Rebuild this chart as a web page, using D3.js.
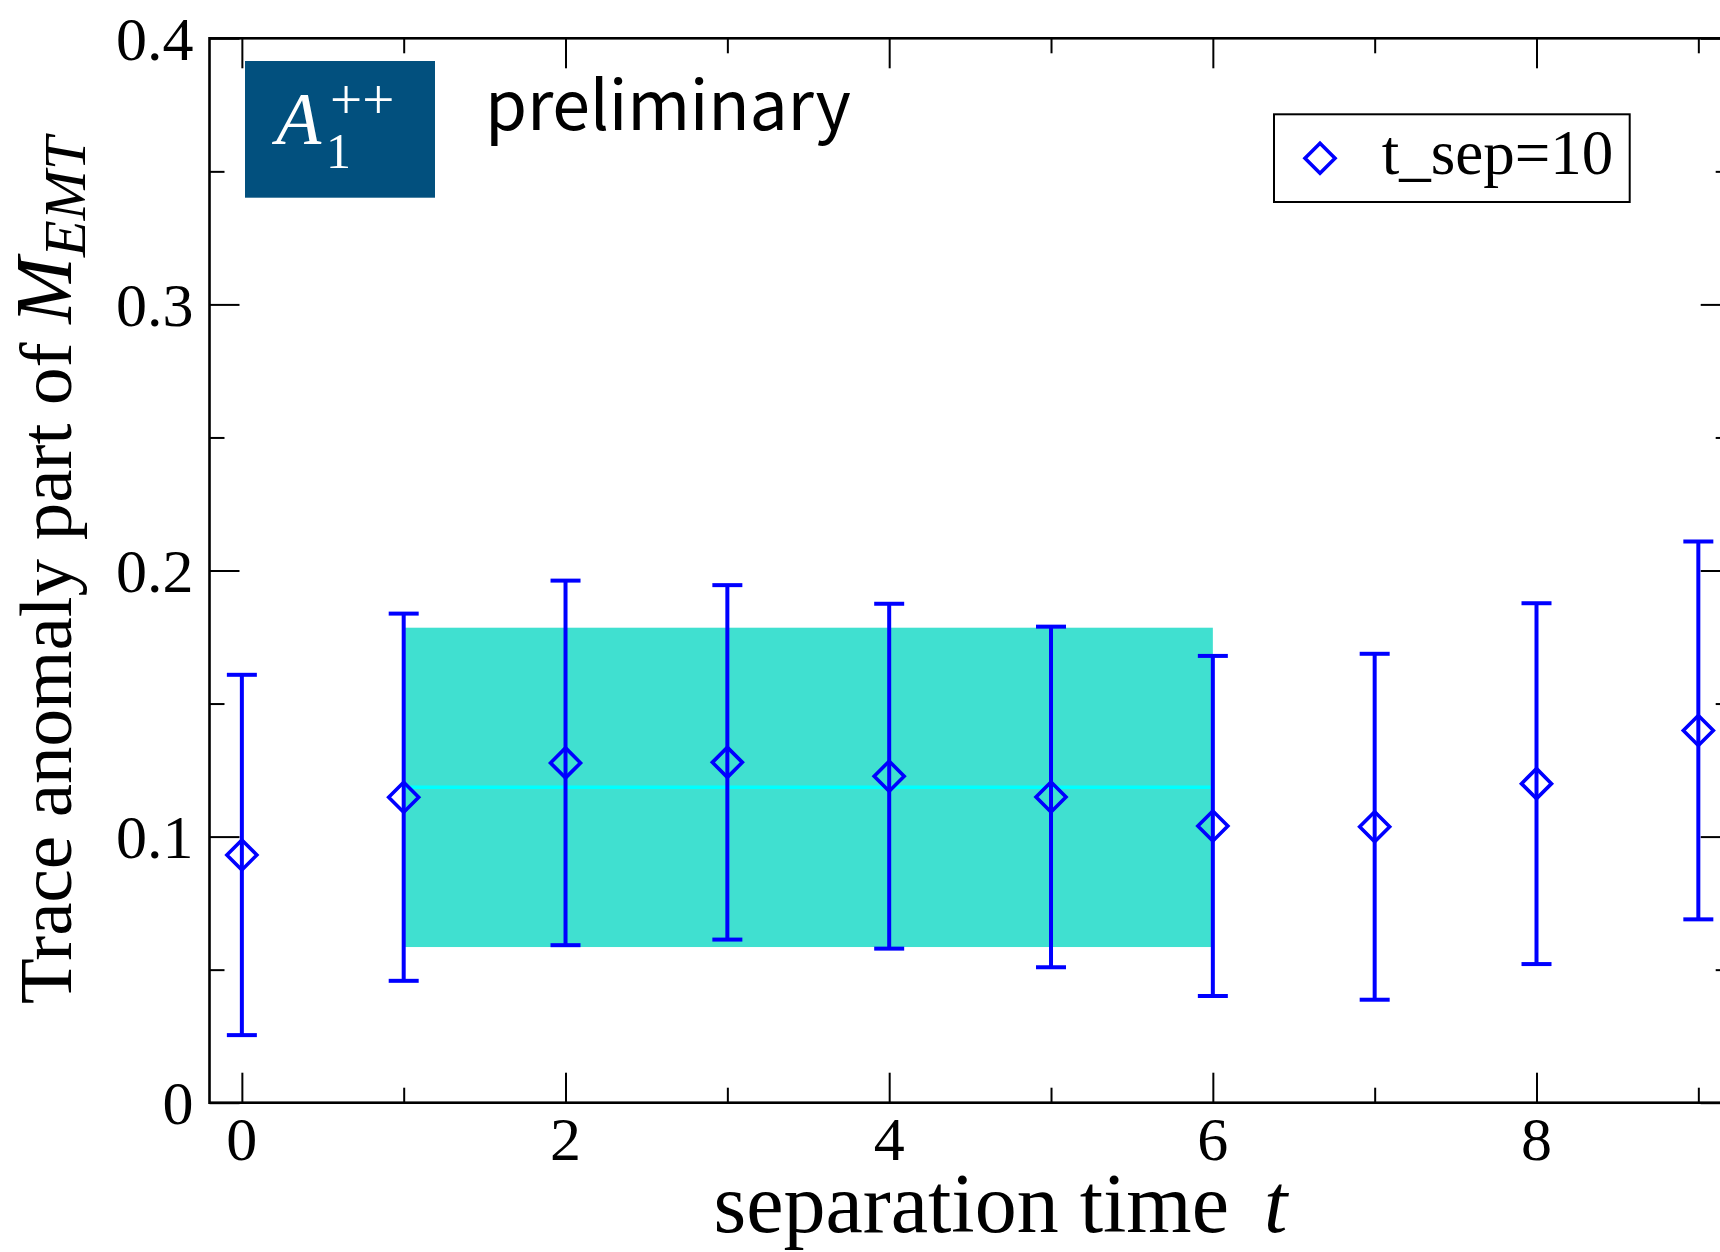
<!DOCTYPE html>
<html>
<head>
<meta charset="utf-8">
<script src="https://cdn.jsdelivr.net/npm/d3@7"></script>
<style>
  html, body { margin: 0; padding: 0; background: #fff; }
  svg { display: block; }
</style>
</head>
<body>
<svg id="chart" width="1720" height="1252"></svg>
<script>
// Separation times and the measured trace-anomaly values with symmetric errors
const times  = [0, 1, 2, 3, 4, 5, 6, 7, 8, 9];
const values = [0.0931, 0.1148, 0.1277, 0.1279, 0.1227, 0.1149, 0.1040, 0.1037, 0.1199, 0.1399];
const errors = [0.0677, 0.0690, 0.0685, 0.0666, 0.0648, 0.0640, 0.0639, 0.0650, 0.0678, 0.0710];

// Constant fit over the plateau window
const fitRange = [1, 6];
const fitValue = 0.1185;
const fitError = 0.0600;

// Axis ticks and labels
const xMajorTicks = [0, 2, 4, 6, 8];
const xMinorTicks = [1, 3, 5, 7, 9];
const yMajorTicks = [0, 0.1, 0.2, 0.3, 0.4];
const yMinorTicks = [0.05, 0.15, 0.25, 0.35];
const yTickLabels = ["0", "0.1", "0.2", "0.3", "0.4"];
const seriesName = "t_sep=10";

const serif = "'Liberation Serif', 'Times New Roman', serif";
const svg = d3.select("#chart");

const plotLeft = 209.5, plotRight = 1730.7, plotTop = 38.3, plotBottom = 1102.7;
const x = d3.scaleLinear().domain([-0.2, 9.2]).range([plotLeft, plotRight]);
const y = d3.scaleLinear().domain([0, 0.4]).range([plotBottom, plotTop]);

const points = times.map((t, i) => ({ t, v: values[i], e: errors[i] }));

// Fit band and central value
svg.append("rect")
  .attr("x", x(fitRange[0]))
  .attr("y", y(fitValue + fitError))
  .attr("width", x(fitRange[1]) - x(fitRange[0]))
  .attr("height", y(fitValue - fitError) - y(fitValue + fitError))
  .attr("fill", "#40e0d0");
svg.append("line")
  .attr("x1", x(fitRange[0])).attr("x2", x(fitRange[1]))
  .attr("y1", y(fitValue)).attr("y2", y(fitValue))
  .attr("stroke", "#00ffff").attr("stroke-width", 3.5);

// Axis frame with inward ticks on all four sides
function tickAxis(gen, scale, ticks, size, transform) {
  const g = svg.append("g").attr("transform", transform)
    .call(gen(scale).tickValues(ticks).tickSize(size).tickFormat(""));
  g.select(".domain").remove();
  g.selectAll(".tick line").attr("stroke", "#000").attr("stroke-width", 2);
  return g;
}
tickAxis(d3.axisBottom, x, xMajorTicks, -30, `translate(0,${plotBottom})`);
tickAxis(d3.axisBottom, x, xMinorTicks, -15, `translate(0,${plotBottom})`);
tickAxis(d3.axisTop, x, xMajorTicks, -30, `translate(0,${plotTop})`);
tickAxis(d3.axisTop, x, xMinorTicks, -15, `translate(0,${plotTop})`);
tickAxis(d3.axisLeft, y, yMajorTicks, -30, `translate(${plotLeft},0)`);
tickAxis(d3.axisLeft, y, yMinorTicks, -15, `translate(${plotLeft},0)`);
tickAxis(d3.axisRight, y, yMajorTicks, -30, `translate(${plotRight},0)`);
tickAxis(d3.axisRight, y, yMinorTicks, -15, `translate(${plotRight},0)`);

svg.append("rect")
  .attr("x", plotLeft).attr("y", plotTop)
  .attr("width", plotRight - plotLeft).attr("height", plotBottom - plotTop)
  .attr("fill", "none").attr("stroke", "#000").attr("stroke-width", 2.6);

// Error bars with caps
const bars = svg.append("g").attr("stroke", "#0000ff").attr("stroke-width", 4).attr("fill", "none");
bars.selectAll("line.bar").data(points).join("line").attr("class", "bar")
  .attr("x1", d => x(d.t)).attr("x2", d => x(d.t))
  .attr("y1", d => y(d.v + d.e)).attr("y2", d => y(d.v - d.e));
bars.selectAll("line.capTop").data(points).join("line").attr("class", "capTop")
  .attr("x1", d => x(d.t) - 15).attr("x2", d => x(d.t) + 15)
  .attr("y1", d => y(d.v + d.e)).attr("y2", d => y(d.v + d.e));
bars.selectAll("line.capBot").data(points).join("line").attr("class", "capBot")
  .attr("x1", d => x(d.t) - 15).attr("x2", d => x(d.t) + 15)
  .attr("y1", d => y(d.v - d.e)).attr("y2", d => y(d.v - d.e));

// Open diamond markers
const diamond = r => `M0,${-r}L${r},0L0,${r}L${-r},0Z`;
bars.selectAll("path.marker").data(points).join("path").attr("class", "marker")
  .attr("transform", d => `translate(${x(d.t)},${y(d.v)})`)
  .attr("d", diamond(15))
  .attr("stroke-width", 3.6);

// Tick labels
svg.append("g").selectAll("text").data(xMajorTicks).join("text")
  .attr("x", d => x(d)).attr("y", 1160)
  .attr("text-anchor", "middle")
  .attr("font-family", serif).attr("font-size", 62)
  .text(d => d);
svg.append("g").selectAll("text").data(yMajorTicks).join("text")
  .attr("x", 193.5).attr("y", d => y(d) + 21.5)
  .attr("text-anchor", "end")
  .attr("font-family", serif).attr("font-size", 62)
  .text((d, i) => yTickLabels[i]);

// Axis titles
const xt = svg.append("text")
  .attr("y", 1232)
  .attr("font-family", serif).attr("font-size", 84);
xt.append("tspan").attr("x", 713.5).text("separation time");
xt.append("tspan").attr("x", 1264).attr("font-style", "italic").text("t");

const yt = svg.append("text")
  .attr("transform", "translate(71,1004) rotate(-90)")
  .attr("font-family", serif).attr("font-size", 75);
yt.append("tspan").text("Trace anomaly part of ");
yt.append("tspan").attr("font-style", "italic").attr("font-size", 80).text("M");
yt.append("tspan").attr("font-style", "italic").attr("font-size", 60).attr("dy", 14).text("EMT");

// Channel badge
svg.append("rect")
  .attr("x", 245).attr("y", 61).attr("width", 190).attr("height", 136.7)
  .attr("fill", "#02507e");
svg.append("text")
  .attr("x", 276).attr("y", 144.3)
  .attr("font-family", serif).attr("font-style", "italic").attr("font-size", 74)
  .attr("fill", "#fff").text("A");
svg.append("text")
  .attr("x", 326).attr("y", 168.3)
  .attr("font-family", serif).attr("font-size", 50)
  .attr("fill", "#fff").text("1");
svg.append("text")
  .attr("x", 330).attr("y", 118.5)
  .attr("font-family", serif).attr("font-size", 57)
  .attr("fill", "#fff").text("++");

svg.append("text")
  .attr("x", 485).attr("y", 129.5)
  .attr("font-family", "'Noto Sans CJK JP', 'Noto Sans', sans-serif").attr("font-size", 68)
  .attr("textLength", 366).attr("lengthAdjust", "spacing")
  .text("preliminary");

// Legend
const lg = svg.append("g");
lg.append("rect")
  .attr("x", 1274).attr("y", 114.3).attr("width", 355.7).attr("height", 87.7)
  .attr("fill", "#fff").attr("stroke", "#000").attr("stroke-width", 2);
lg.append("path")
  .attr("transform", "translate(1320,158.3)")
  .attr("d", diamond(15))
  .attr("fill", "none").attr("stroke", "#0000ff").attr("stroke-width", 3.6);
lg.append("text")
  .attr("x", 1381.7).attr("y", 174)
  .attr("font-family", serif).attr("font-size", 63)
  .text(seriesName);
</script>
</body>
</html>
